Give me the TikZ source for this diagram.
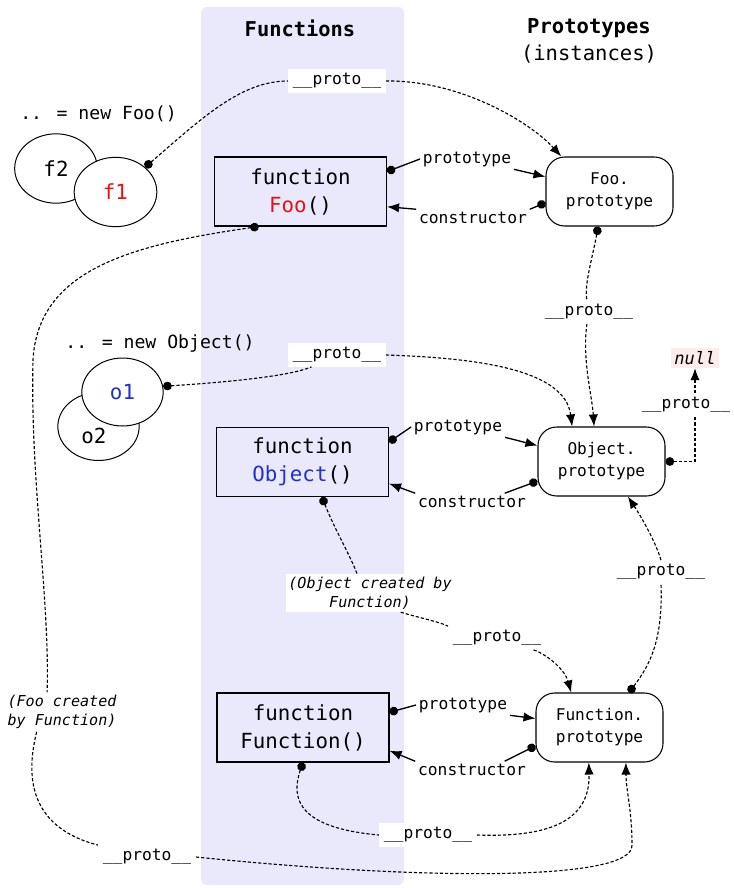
\documentclass[tikz,border=0pt]{standalone}
\usepackage{fontspec}
\setmainfont{DejaVu Sans Mono}
\usetikzlibrary{arrows.meta,shapes.geometric}

\definecolor{bandblue}{RGB}{233,233,251}
\definecolor{nullpink}{RGB}{252,236,236}
\definecolor{fooRed}{RGB}{232,16,16}
\definecolor{objBlue}{RGB}{32,48,208}

\tikzset{
  fbox/.style={draw, line width=0.8pt, minimum width=129pt, minimum height=51.75pt,
    align=center, font=\fontsize{15.6}{21}\selectfont},
  pbox/.style={draw, line width=0.8pt, rounded corners=14pt, minimum width=95.25pt,
    minimum height=51.75pt, align=center, font=\fontsize{12.1}{16.5}\selectfont},
  inst/.style={draw, ellipse, line width=0.75pt, fill=white, minimum width=62pt,
    minimum height=52pt, inner sep=0pt, font=\fontsize{15.6}{21}\selectfont},
  lbl/.style={font=\fontsize{12.2}{15}\selectfont, inner sep=2pt},
  plbl/.style={lbl, fill=white, inner xsep=3.5pt, inner ysep=3pt},
  note/.style={fill=white, align=center, font=\fontsize{11.3}{14.3}\selectfont\itshape,
    inner sep=2pt},
  link/.style={line width=1pt},
  protoln/.style={line width=0.85pt, dash pattern=on 2.4pt off 1.5pt},
  >={Latex[length=9pt,width=7pt]},
  Dot/.tip={Circle[length=6.5pt]},
}

\begin{document}
\begin{tikzpicture}[x=0.75pt, y=-0.75pt]
  \useasboundingbox (0,0) rectangle (733,888);
  %\draw[lightgray] (0,0) grid[step=50] (733,888);
  \fill[bandblue, rounded corners=4.5pt] (201,7) rectangle (404,885);

  \node[font=\fontsize{15.3}{20}\selectfont\bfseries] (functitle) at (300,28) {Functions};
  \node[font=\fontsize{15.4}{20.25}\selectfont, align=center] (prototitle) at (589,41)
    {\textbf{Prototypes}\\(instances)};

  % functions
  \node[fbox] (foo) at (300.5,191.5) {function\\\textcolor{fooRed}{Foo}()};
  \node[fbox] (obj) at (302.5,462) {function\\\textcolor{objBlue}{Object}()};
  \node[fbox] (fun) at (303,727.5) {function\\Function()};

  % prototypes
  \node[pbox] (fooproto) at (609.5,191.5) {Foo.\\prototype};
  \node[pbox] (objproto) at (601.5,461.5) {Object.\\prototype};
  \node[pbox] (funproto) at (599.5,727.5) {Function.\\prototype};
  \node[fill=nullpink, font=\fontsize{12.8}{15}\selectfont\itshape, inner sep=2.5pt]
    (nullv) at (695,358) {null};

  % instances
  \node[font=\fontsize{13.6}{16}\selectfont] (newfoo) at (98.5,114) {.. = new Foo()};
  \node[inst] (f2) at (56,168.5) {f2};
  \node[inst] (f1) at (115.5,192) {\textcolor{fooRed}{f1}};
  \node[font=\fontsize{13.6}{16}\selectfont] (newobj) at (160,343) {.. = new Object()};
  \node[inst, minimum width=61pt, minimum height=51pt] (o2) at (98.5,426.5) {};
  \node[font=\fontsize{15.6}{21}\selectfont] (o2txt) at (94,436) {o2};
  \node[inst, minimum width=61pt, minimum height=51pt] (o1) at (122.5,392)
    {\textcolor{objBlue}{o1}};

  % labels
  \node[lbl] (fooptl) at (467,159) {prototype};
  \node[lbl] (fooctl) at (473,218) {constructor};
  \node[lbl] (objptl) at (458,427) {prototype};
  \node[lbl] (objctl) at (472,502) {constructor};
  \node[lbl] (funptl) at (463,705) {prototype};
  \node[lbl] (functl) at (472,770) {constructor};

  \node[plbl] (p1) at (337,81) {\_\_proto\_\_};
  \node[plbl] (p2) at (337,355) {\_\_proto\_\_};
  \node[plbl] (p3) at (589,312) {\_\_proto\_\_};
  \node[plbl] (p4) at (497,638) {\_\_proto\_\_};
  \node[plbl] (p5) at (147,857) {\_\_proto\_\_};
  \node[plbl] (p6) at (428,835) {\_\_proto\_\_};
  \node[plbl] (p7) at (686,405) {\_\_proto\_\_};
  \node[plbl] (p8) at (661,572) {\_\_proto\_\_};

  \node[note] (foonote) at (62,712) {(Foo created\\by Function)};
  \node[note] (objnote) at (370,593) {(Object created by\\Function)};

  % prototype / constructor
  \draw[link, Dot-] (foo.13) -- (fooptl.west);
  \draw[link, ->] (fooptl.south east) -- (fooproto.167);
  \draw[link, Dot-] (fooproto.190) -- (fooctl.north east);
  \draw[link, ->] (fooctl.north west) -- (foo.-10);
  \draw[link, Dot-] (obj.13) -- (objptl.west);
  \draw[link, ->] (objptl.south east) -- (objproto.166);
  \draw[link, Dot-] (objproto.197) -- (objctl.15);
  \draw[link, ->] (objctl.north west) -- (obj.-14);
  \draw[link, Dot-] (fun.10) -- (funptl.west);
  \draw[link, ->] (funptl.south east) -- (funproto.172);
  \draw[link, Dot-] (funproto.196) -- (functl.15);
  \draw[link, ->] (functl.north west) -- (fun.-15);

  % __proto__ chains
  \draw[protoln, Dot-] (f1.40) .. controls (200,120) and (240,81) .. (p1.west);
  \draw[protoln, ->] (p1.east) .. controls (460,80) and (530,122) .. (fooproto.144);
  \draw[protoln, Dot-] (o1.8) .. controls (230,382) and (290,376) .. (p2.205);
  \draw[protoln, ->] (p2.east) .. controls (480,358) and (565,370) .. (objproto.130);
  \draw[protoln, Dot-] (fooproto.252) .. controls (592,260) and (584,285) .. (p3.100);
  \draw[protoln, ->] (p3.260) .. controls (582,360) and (592,395) .. (objproto.102);
  \draw[protoln, Dot-] (objproto.east) -| (nullv.south |- p7.south);
  \draw[protoln, ->] (nullv.south |- p7.north) -- (nullv.south);
  \draw[protoln, Dot-] (obj.-61) .. controls (335,530) and (350,555) .. (objnote.124);
  \draw[protoln] (objnote.-32) .. controls (420,618) and (440,622) .. (p4.north west);
  \draw[protoln, ->] (p4.-18) .. controls (548,655) and (565,670) .. (funproto.129);
  \draw[protoln, Dot-] (funproto.50) .. controls (650,665) and (663,640) .. (p8.south);
  \draw[protoln, ->] (p8.north) .. controls (655,540) and (640,515) .. (objproto.-53);
  \draw[protoln, Dot-] (fun.south) .. controls (290,800) and (300,828) .. (p6.west);
  \draw[protoln, ->] (p6.east) .. controls (560,838) and (590,815) .. (funproto.253);
  \draw[protoln, Dot-] (foo.220) .. controls (130,245) and (38,270) .. (33,360)
    .. controls (30,480) and (50,600) .. (foonote.127);
  \draw[protoln] (foonote.218) .. controls (22,790) and (40,830) .. (p5.north west);
  \draw[protoln, ->] (p5.east) .. controls (420,880) and (634,882) .. (632,845)
    .. controls (632,810) and (626,790) .. (funproto.-53);
\end{tikzpicture}
\end{document}
